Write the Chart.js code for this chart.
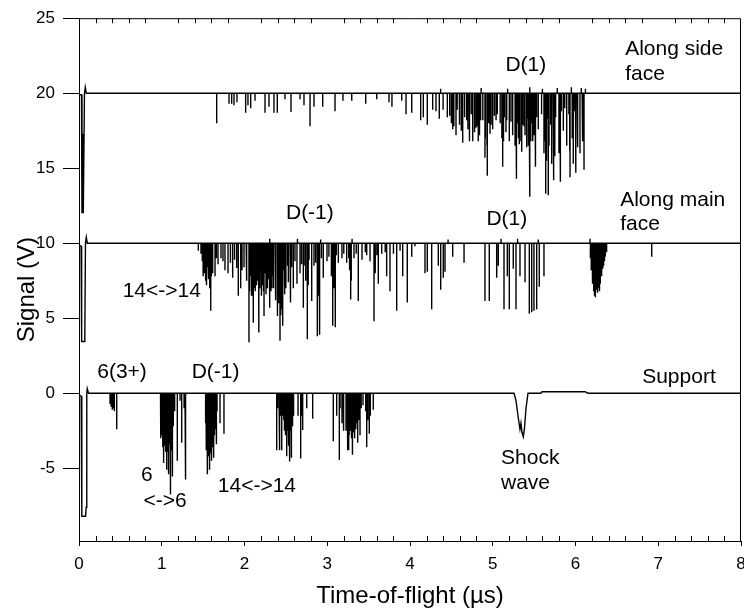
<!DOCTYPE html>
<html>
<head>
<meta charset="utf-8">
<script src="https://cdn.jsdelivr.net/npm/chart.js@4"></script>
<style>
  body { margin: 0; background: #fff; }
  #wrap { width: 744px; height: 611px; }
</style>
</head>
<body>
<div id="wrap"><canvas id="myChart"></canvas></div>
<script>
// ---- data (time in µs, signal in V) ----
const xTicks = [0, 1, 2, 3, 4, 5, 6, 7, 8];
const yTicks = [-5, 0, 5, 10, 15, 20, 25];

// "Along side face" trace, baseline 20 V
const sideBase = 20;
const sideStartT = [0, 0.03, 0.036, 0.048, 0.052, 0.066, 0.076, 0.088];
const sideStartV = [19.9, 19.9, 12.0, 17.3, 12.0, 20.0, 20.4, 20.0];
const sideSpikeT = [1.664,1.813,1.845,1.873,1.909,2.014,2.042,2.075,2.127,2.248,2.296,2.356,2.396,2.489,2.562,2.671,2.719,2.792,2.840,2.945,3.094,3.190,3.296,3.465,3.598,3.746,3.782,3.900,3.952,4.021,4.129,4.161,4.209,4.274,4.314,4.354,4.451,4.516,4.556,4.596,4.637,4.685,4.717,4.758,4.798,4.825,4.854,4.906,4.934,4.967,4.999,5.055,5.120,5.169,5.200,5.241,5.281,5.321,5.350,5.378,5.410,5.450,5.483,5.511,5.550,5.619,5.640,5.671,5.712,5.740,5.813,5.853,5.894,5.934,5.973,6.006,6.054,6.103];
const sideSpikeV = [18.0,19.3,19.3,19.2,19.4,18.7,19.2,19.0,19.5,18.7,19.1,18.7,18.7,19.6,18.75,19.6,19.2,17.8,19.1,19.1,18.8,19.5,19.5,19.3,19.6,19.4,19.1,19.5,18.6,18.7,18.2,18.4,17.9,18.9,18.8,18.3,18.4,17.6,17.2,17.9,16.7,18.2,16.8,16.8,17.7,16.8,18.2,15.7,14.5,17.3,17.6,18.6,15.1,18.2,16.8,17.7,14.3,16.6,16.1,17.8,16.4,13.1,16.8,15.1,17.6,16.0,13.3,13.2,15.3,14.2,14.1,17.5,16.5,14.4,15.3,14.7,16.0,14.9];
const sideFineT = [4.40,4.48,4.57,4.66,4.74,4.88,4.95,5.02,5.09,5.14,5.22,5.30,5.36,5.42,5.47,5.53,5.59,5.66,5.70,5.76,5.83,5.87,5.92,5.99,6.03,6.08,
  4.50,4.53,4.60,4.62,4.70,4.72,4.78,4.81,4.84,4.91,4.93,4.98,5.04,5.11,5.13,5.16,5.24,5.27,5.29,5.31,5.34,5.39,5.43,5.44,5.46,5.50,5.52,5.63,5.65,5.68,5.73,5.75,5.80,5.82,5.93,5.96,6.00,6.02,6.09,
  4.37,4.86,5.18,5.45,5.60,5.78,5.95,6.07,6.12];
const sideFineV = [18.9,18.5,18.9,18.4,18.6,18.2,18.0,18.5,18.0,18.4,18.1,18.0,17.9,18.3,18.0,18.4,18.6,18.3,17.9,18.4,18.8,19.0,18.6,18.8,18.3,18.5,
  18.0,17.8,18.2,17.5,17.6,18.0,17.4,17.8,17.2,17.0,16.5,17.9,18.2,17.0,16.8,17.4,17.2,16.5,16.0,17.0,16.8,17.2,16.5,15.5,16.8,17.2,16.0,16.8,15.5,16.5,16.2,15.8,16.0,15.5,16.2,17.0,16.6,16.4,16.8,
  20.3,20.35,20.3,20.4,20.3,20.35,20.4,20.35,20.3];

// "Along main face" trace, baseline 10 V
const mainBase = 10;
const mainStartT = [0, 0.025, 0.032, 0.07, 0.078, 0.088, 0.1];
const mainStartV = [9.9, 9.8, 3.45, 3.45, 10.0, 10.4, 10.0];
const mainSpikeT = [1.442,1.474,1.511,1.535,1.559,1.592,1.619,1.644,1.680,1.716,1.764,1.801,1.857,1.906,1.925,1.954,1.994,2.054,2.087,2.106,2.139,2.175,2.208,2.236,2.272,2.308,2.344,2.396,2.429,2.457,2.489,2.550,2.590,2.634,2.671,2.711,2.759,2.812,2.840,2.880,2.904,2.952,2.997,3.066,3.094,3.134,3.178,3.235,3.283,3.323,3.375,3.420,3.477,3.517,3.565,3.617,3.658,3.718,3.758,3.839,3.912,3.967,4.021,4.060,4.181,4.209,4.262,4.342,4.371,4.402,4.423,4.516,4.653,4.906,4.958,5.048,5.067,5.136,5.176,5.200,5.248,5.281,5.329,5.390,5.442,5.471,5.498,5.531,5.562,5.619];
const mainSpikeV = [9.5,9.3,8.5,7.9,8.2,5.5,8.0,7.8,8.6,9.0,8.2,8.0,7.7,8.35,6.5,7.0,8.4,3.4,6.5,4.7,7.5,4.05,7.3,5.15,7.0,5.7,7.8,5.15,3.5,4.5,7.5,6.05,7.0,7.3,8.0,5.7,3.6,6.15,8.5,3.8,3.9,7.7,8.8,4.5,4.4,8.7,9.0,8.7,6.25,9.0,6.15,8.9,9.2,8.8,4.8,7.3,9.3,7.8,6.8,5.5,7.8,6.05,9.1,9.8,8.0,8.1,5.6,8.5,6.9,7.7,8.1,9.1,8.7,6.15,6.15,7.7,8.5,5.6,7.8,5.6,8.3,5.6,7.8,7.4,5.3,5.4,5.5,5.6,7.1,7.8];
const mainFineT = [1.49,1.52,1.55,1.57,1.61,1.66,1.74,1.83,1.88,1.97,2.02,2.07,2.12,2.16,2.19,2.22,2.25,2.29,2.33,2.37,2.41,2.44,2.47,2.52,2.57,2.61,2.69,2.73,2.78,2.86,2.93,3.02,3.11,3.2,3.26,3.35,3.46,3.6,3.7,3.8,3.88,
  1.50,1.53,1.545,1.565,1.58,1.60,2.03,2.06,2.08,2.10,2.115,2.13,2.15,2.17,2.185,2.20,2.215,2.23,2.26,2.28,2.32,2.35,2.38,2.40,2.415,2.435,2.445,2.465,2.48,2.50,2.53,2.56,2.74,2.77,2.89,2.91,3.05,3.08,3.10,3.27,3.29,3.58,
  2.30,2.64,2.92,3.30,4.46,5.10,5.30,5.55];
const mainFineV = [8.8,8.0,8.4,7.6,8.6,9.0,8.8,8.7,8.9,8.2,7.6,7.8,8.0,7.5,8.2,7.2,8.0,7.6,7.0,8.1,7.4,7.9,8.2,8.5,8.4,8.8,8.6,8.5,8.9,8.7,9.0,9.1,9.2,9.3,9.0,9.3,9.4,9.2,9.4,9.3,9.5,
  7.8,7.5,7.2,7.6,7.0,7.8,7.5,6.8,7.2,6.5,7.0,6.8,7.2,6.6,7.0,6.5,7.4,6.8,6.6,7.2,6.8,7.0,6.2,5.8,6.0,5.2,5.6,6.0,6.6,7.0,7.4,7.6,7.5,7.2,6.5,6.0,7.8,7.0,6.8,8.2,7.5,8.0,
  10.3,10.3,10.25,10.3,10.25,10.3,10.3,10.25];
const mainHumpT = [6.175,6.18,6.19,6.20,6.21,6.22,6.23,6.24,6.25,6.26,6.27,6.28,6.29,6.30,6.31,6.32,6.33,6.34,6.35,6.36,6.37,6.38,6.921];
const mainHumpV = [10.3,9.0,8.2,7.8,7.3,6.8,6.5,6.4,6.9,7.2,6.7,7.0,6.8,7.3,7.8,8.1,8.3,8.5,8.8,9.1,9.4,9.6,9.1];

// "Support" trace, baseline 0 V
const supportBase = 0;
const supportStartT = [0, 0.026, 0.034, 0.08, 0.086, 0.094, 0.1, 0.115];
const supportStartV = [-0.1, -0.2, -8.2, -8.2, -7.6, 0.0, 0.3, 0.0];
const supportSpikeT = [0.375,0.387,0.399,0.405,0.411,0.423,0.430,0.456,
  0.985,0.997,1.009,1.019,1.031,1.043,1.060,1.069,1.079,1.091,1.108,1.118,1.132,1.142,1.160,1.188,1.221,1.241,1.281,1.293,
  1.535,1.547,1.555,1.565,1.575,1.587,1.604,1.613,1.623,1.631,1.644,1.656,1.664,1.704,1.752,
  2.389,2.417,2.429,2.450,2.465,2.483,2.510,2.520,2.532,2.541,2.556,2.570,2.593,2.647,2.679,2.703,2.752,2.824,
  3.073,3.114,3.146,3.178,3.194,3.227,3.242,3.259,3.275,3.293,3.308,3.335,3.368,3.396,3.432,3.477,3.508,3.556];
const supportSpikeV = [-0.7,-0.9,-1.1,-0.8,-1.0,-1.2,-0.7,-2.4,
  -2.5,-1.2,-3.5,-4.65,-2.0,-3.8,-5.1,-3.0,-5.4,-2.5,-6.75,-3.5,-5.55,-1.0,-1.2,-4.5,-0.5,-3.3,-5.75,-4.65,
  -3.0,-1.5,-5.4,-2.5,-5.1,-3.0,-4.5,-2.5,-4.0,-4.3,-2.0,-3.2,-3.4,-2.0,-2.7,
  -3.8,-2.0,-3.8,-3.8,-1.5,-2.5,-4.2,-2.0,-3.5,-4.55,-2.5,-4.3,-1.5,-1.5,-4.35,-2.45,-1.0,-1.7,
  -3.2,-1.5,-4.45,-2.0,-2.5,-2.5,-3.8,-3.8,-2.0,-3.0,-4.1,-3.0,-3.3,-2.8,-0.8,-3.6,-2.7,-1.1];
const supportFineT = [0.99,1.0,1.015,1.025,1.037,1.05,1.065,1.075,1.085,1.097,1.102,1.113,1.125,1.137,1.15,1.27,1.287,
  1.53,1.54,1.551,1.56,1.57,1.58,1.592,1.598,1.608,1.618,1.627,1.637,1.65,1.668,
  2.40,2.44,2.475,2.49,2.50,2.515,2.527,2.537,2.548,2.563,2.575,2.585,2.69,
  3.155,3.2,3.25,3.265,3.283,3.30,3.315,3.325,3.345,3.355,3.385,3.41,3.465,3.49,3.52];
const supportFineV = [-3.0,-2.8,-3.6,-3.4,-3.5,-3.9,-3.7,-3.9,-4.0,-3.4,-4.2,-3.8,-3.0,-2.2,-0.8,-1.0,-3.0,
  -2.0,-3.8,-4.0,-4.2,-4.0,-4.3,-4.0,-3.9,-3.6,-3.3,-3.0,-2.8,-2.4,-1.2,
  -1.0,-1.5,-1.8,-1.2,-2.8,-2.5,-2.8,-3.0,-3.2,-3.0,-2.2,-1.0,-1.5,
  -1.0,-1.8,-2.6,-2.8,-2.5,-2.8,-2.6,-2.3,-2.4,-2.0,-1.8,-1.0,-1.2,-1.8,-1.5];
const shockT = [5.257,5.281,5.305,5.329,5.341,5.353,5.369,5.384,5.402,5.426,5.58,5.595,6.115,6.151,8];
const shockV = [0.0,-0.5,-1.5,-2.4,-2.0,-2.6,-2.9,-2.3,-1.0,0.0,0.0,0.1,0.1,0.0,0.0];

// text labels on the plot (placed in data units)
const notes = [
  { text: 'D(1)', t: 5.40, v: 21.9, align: 'center' },
  { text: 'Along side', t: 6.60, v: 22.9, align: 'left' },
  { text: 'face', t: 6.60, v: 21.3, align: 'left' },
  { text: 'D(-1)', t: 2.79, v: 12.0, align: 'center' },
  { text: 'Along main', t: 6.54, v: 12.9, align: 'left' },
  { text: 'face', t: 6.54, v: 11.3, align: 'left' },
  { text: 'D(1)', t: 5.17, v: 11.6, align: 'center' },
  { text: '14<->14', t: 1.0, v: 6.8, align: 'center' },
  { text: '6(3+)', t: 0.52, v: 1.4, align: 'center' },
  { text: 'D(-1)', t: 1.65, v: 1.4, align: 'center' },
  { text: 'Support', t: 7.25, v: 1.1, align: 'center' },
  { text: '6', t: 0.82, v: -5.45, align: 'center' },
  { text: '<->6', t: 1.04, v: -7.2, align: 'center' },
  { text: '14<->14', t: 2.15, v: -6.2, align: 'center' },
  { text: 'Shock', t: 5.10, v: -4.35, align: 'left' },
  { text: 'wave', t: 5.10, v: -6.0, align: 'left' }
];

// build line points: plain points as read, spikes as vertical strokes from the baseline
const pts = (ts, vs) => ts.map((t, i) => ({ x: t, y: vs[i] }));
const spikes = (ts, vs, base) => {
  const out = [];
  ts.forEach((t, i) => { out.push({ x: t, y: base }, { x: t, y: vs[i] }, { x: t, y: base }); });
  return out;
};
const trace = parts => [].concat(...parts).sort((a, b) => a.x - b.x);

const sideData = trace([pts(sideStartT, sideStartV), spikes(sideSpikeT, sideSpikeV, sideBase),
  spikes(sideFineT, sideFineV, sideBase), [{ x: 8, y: sideBase }]]);
const mainData = trace([pts(mainStartT, mainStartV), spikes(mainSpikeT, mainSpikeV, mainBase),
  spikes(mainFineT, mainFineV, mainBase), spikes(mainHumpT, mainHumpV, mainBase), [{ x: 8, y: mainBase }]]);
const supportData = trace([pts(supportStartT, supportStartV), spikes(supportSpikeT, supportSpikeV, supportBase),
  spikes(supportFineT, supportFineV, supportBase), pts(shockT, shockV)]);

const FONT = '"Liberation Sans", Arial, sans-serif';

const lineStyle = { borderColor: '#000', borderWidth: 1.4, pointRadius: 0, tension: 0, fill: false };

// frame, inner minor ticks and the text labels
const extras = {
  id: 'extras',
  afterDraw(chart) {
    const { ctx, chartArea: a, scales } = chart;
    const x = scales.x, y = scales.y;
    ctx.save();
    ctx.strokeStyle = '#000';
    ctx.lineWidth = 1;
    ctx.beginPath();
    ctx.moveTo(a.left, a.top + 0.5); ctx.lineTo(a.right - 0.5, a.top + 0.5);
    ctx.lineTo(a.right - 0.5, a.bottom);
    for (let i = 1; i < 40; i++) {
      if (i % 5 === 0) continue;
      const px = Math.round(x.getPixelForValue(i * 0.2)) + 0.5;
      ctx.moveTo(px, a.bottom); ctx.lineTo(px, a.bottom - 5);
      ctx.moveTo(px, a.top); ctx.lineTo(px, a.top + 5);
    }
    ctx.stroke();

    ctx.fillStyle = '#000';
    ctx.font = '21px ' + FONT;
    ctx.textBaseline = 'middle';
    notes.forEach(n => {
      ctx.textAlign = n.align;
      ctx.fillText(n.text, x.getPixelForValue(n.t), y.getPixelForValue(n.v));
    });
    ctx.restore();
  }
};

const config = {
  type: 'line',
  data: {
    datasets: [
      { label: 'Along side face', data: sideData, ...lineStyle },
      { label: 'Along main face', data: mainData, ...lineStyle },
      { label: 'Support', data: supportData, ...lineStyle }
    ]
  },
  options: {
    responsive: true,
    maintainAspectRatio: false,
    animation: false,
    layout: { padding: { top: 16, right: 3 } },
    plugins: {
      legend: { display: false },
      tooltip: { enabled: false }
    },
    scales: {
      x: {
        type: 'linear',
        min: 0,
        max: 8,
        afterBuildTicks: s => { s.ticks = xTicks.map(v => ({ value: v })); },
        afterFit: s => { s.height = 70; s.paddingRight = 0; s.paddingLeft = 0; },
        grid: { drawOnChartArea: false, drawTicks: true, tickLength: 5, color: '#000' },
        border: { display: true, color: '#000', width: 1 },
        ticks: { color: '#000', font: { family: FONT, size: 17 }, padding: 8, maxRotation: 0 },
        title: { display: true, text: 'Time-of-flight (µs)', color: '#000', font: { family: FONT, size: 24 }, padding: { top: 2, bottom: 0 } }
      },
      y: {
        min: -9.85,
        max: 25,
        afterBuildTicks: s => { s.ticks = yTicks.map(v => ({ value: v })); },
        afterFit: s => { s.width = 79; },
        grid: { drawOnChartArea: false, drawTicks: true, tickLength: 16, color: '#000' },
        border: { display: true, color: '#000', width: 1 },
        ticks: { color: '#000', font: { family: FONT, size: 17 }, padding: 8 },
        // trailing spaces nudge the title a little below the axis middle, as in the original
        title: { display: true, text: 'Signal (V)   ', color: '#000', font: { family: FONT, size: 24 }, padding: { top: 13, bottom: 0 } }
      }
    }
  },
  plugins: [extras]
};

const myChart = new Chart(document.getElementById('myChart'), config);
</script>
</body>
</html>
